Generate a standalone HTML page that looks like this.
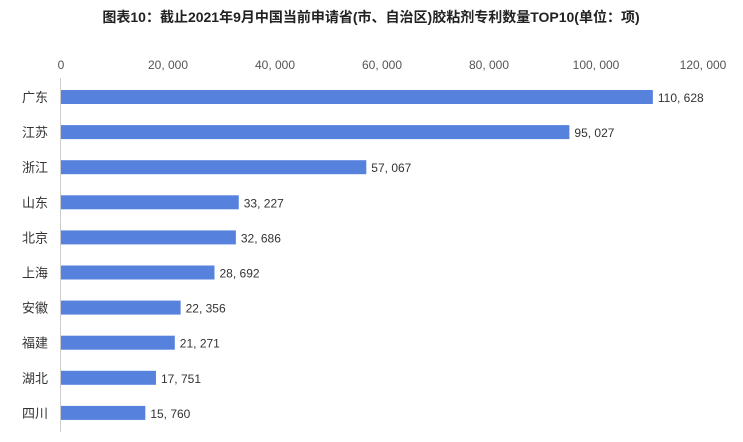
<!DOCTYPE html>
<html><head><meta charset="utf-8"><style>
body{margin:0;background:#fff;width:743px;height:437px;overflow:hidden;font-family:"Liberation Sans","Noto Sans CJK SC",sans-serif}
</style></head><body>
<svg id="c" width="743" height="437">
<text x="371" y="22" text-anchor="middle" font-size="14" font-weight="bold" fill="#222" font-family="Liberation Sans, Noto Sans CJK SC, sans-serif">图表10：截止2021年9月中国当前申请省(市、自治区)胶粘剂专利数量TOP10(单位：项)</text>
<line x1="60.5" y1="78" x2="60.5" y2="432" stroke="#ccc"/>
</svg>
<script>
const categories=["广东","江苏","浙江","山东","北京","上海","安徽","福建","湖北","四川"];
const values=[110628,95027,57067,33227,32686,28692,22356,21271,17751,15760];
const ticks=[0,20000,40000,60000,80000,100000,120000];
const tickLabels=["0","20, 000","40, 000","60, 000","80, 000","100, 000","120, 000"];
const valueLabels=["110, 628","95, 027","57, 067","33, 227","32, 686","28, 692","22, 356","21, 271","17, 751","15, 760"];
const svg=document.getElementById('c');const NS='http://www.w3.org/2000/svg';
const x=v=>61+v*642/120000;
const y=i=>90+i*35.1;
function mk(t,a,txt){const e=document.createElementNS(NS,t);for(const k in a)e.setAttribute(k,a[k]);if(txt!=null)e.textContent=txt;svg.appendChild(e);return e;}
ticks.forEach((t,i)=>{const e=mk('text',{x:x(t),y:69,'text-anchor':'middle','font-size':12,fill:'#555'},tickLabels[i]);

});
categories.forEach((c,i)=>{
const l=mk('text',{x:48,y:y(i)+12,'text-anchor':'end','font-size':13,fill:'#333'},c);


const b=mk('rect',{x:61,y:y(i),width:x(values[i])-61,height:14,fill:'#5682de'});


const v=mk('text',{x:x(values[i])+5,y:y(i)+12,'font-size':12,fill:'#333'},valueLabels[i]);


});
</script>
</body></html>
